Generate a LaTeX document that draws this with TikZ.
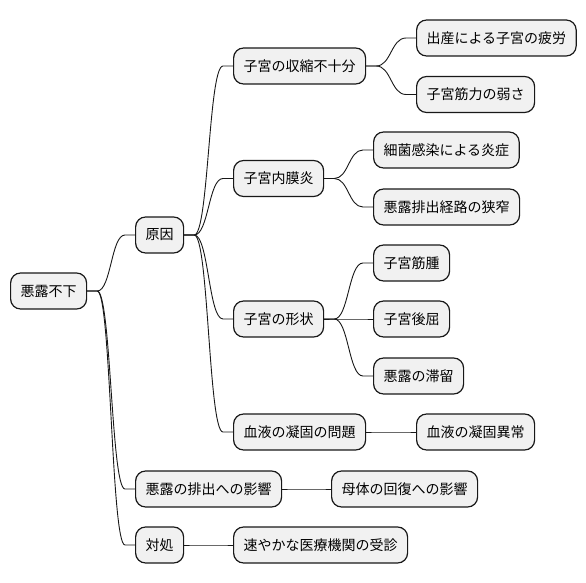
\documentclass[tikz,border=0pt]{standalone}
\usepackage{fontspec}
\setmainfont{Noto Sans CJK JP}
\usetikzlibrary{calc}
\definecolor{boxfill}{HTML}{F1F1F1}
\definecolor{boxline}{HTML}{181818}
\tikzset{
  mm/.style={draw=boxline, fill=boxfill, line width=1.2pt, rounded corners=10pt,
    minimum height=36pt, inner xsep=10pt, inner ysep=0pt, anchor=west,
    font=\fontsize{14pt}{16pt}\selectfont, text=black},
  conn/.style={draw=boxline, line width=0.9pt,
    to path={let \p1=(\tikztostart), \p2=(\tikztotarget) in
      -- (\x1+10pt,\y1) .. controls ({(\x1+\x2)/2},\y1) and ({(\x1+\x2)/2},\y2) .. (\x2-10pt,\y2) -- (\tikztotarget)}}
}
\begin{document}
\begin{tikzpicture}[x=1pt,y=-1pt]
\useasboundingbox (0,0) rectangle (586,583);
\node[mm] (r) at (10,291) {悪露不下};
\node[mm] (a) at (135,235) {原因};
\node[mm] (b) at (135,489) {悪露の排出への影響};
\node[mm] (c) at (135,545) {対処};
\node[mm] (a1) at (233,66) {子宮の収縮不十分};
\node[mm] (a2) at (233,178.5) {子宮内膜炎};
\node[mm] (a3) at (233,319) {子宮の形状};
\node[mm] (a4) at (233,432) {血液の凝固の問題};
\node[mm] (c1) at (233,545) {速やかな医療機関の受診};
\node[mm] (b1) at (331,489) {母体の回復への影響};
\node[mm] (a11) at (416,38) {出産による子宮の疲労};
\node[mm] (a12) at (416,94.5) {子宮筋力の弱さ};
\node[mm] (a41) at (416,432) {血液の凝固異常};
\node[mm] (a21) at (373,150) {細菌感染による炎症};
\node[mm] (a22) at (373,207) {悪露排出経路の狭窄};
\node[mm] (a31) at (373,263) {子宮筋腫};
\node[mm] (a32) at (373,319) {子宮後屈};
\node[mm] (a33) at (373,376) {悪露の滞留};
\foreach \p/\q in {r/a, r/b, r/c, a/a1, a/a2, a/a3, a/a4, c/c1, b/b1,
  a1/a11, a1/a12, a4/a41, a2/a21, a2/a22, a3/a31, a3/a32, a3/a33}
  \draw[conn] (\p.east) to (\q.west);
\end{tikzpicture}
\end{document}
